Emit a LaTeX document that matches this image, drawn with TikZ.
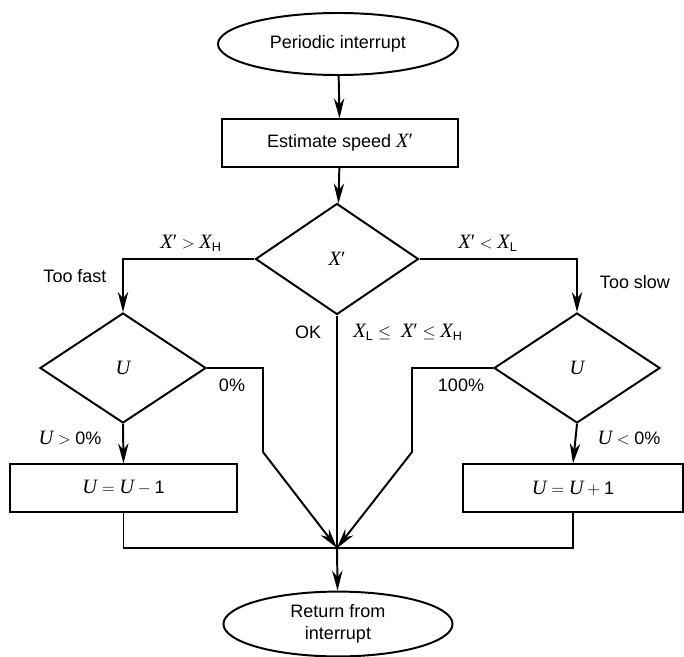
\documentclass[tikz,border=0pt]{standalone}
\usepackage{fontspec}
\setmainfont{Liberation Sans}
\newfontfamily\tms{Liberation Serif}
\newcommand\var[1]{\mbox{\tms\itshape\fontsize{14.5}{16}\selectfont #1}}
\newcommand\pr{\mbox{\tms\fontsize{14.5}{16}\selectfont\char"2032}}
\usetikzlibrary{arrows.meta,shapes.geometric}
\tikzset{
  fig/.style={font=\fontsize{12.8}{16}\selectfont},
  term/.style={draw,ellipse,line width=1.4pt,align=center,inner sep=0pt},
  proc/.style={draw,line width=1.4pt,minimum height=1.18cm,align=center,inner sep=2pt},
  dec/.style={draw,diamond,line width=1.4pt,minimum width=4.15cm,minimum height=2.75cm,
              inner sep=0pt},
  ln/.style={-{Stealth[length=5mm,width=2.6mm,inset=1.6mm]},line width=1.4pt},
  wire/.style={line width=1.4pt},
  lbl/.style={inner sep=1pt},
}

\begin{document}
\begin{tikzpicture}[fig,x=0.025cm,y=-0.025cm]
\useasboundingbox (0,0) rectangle (684,657);

\node[term,minimum width=6cm,minimum height=1.55cm] (start) at (338,44) {Periodic interrupt};
\node[proc,minimum width=5.875cm] (est) at (340,143) {Estimate speed $\var{X}\pr$};
\node[dec,minimum width=4.075cm,minimum height=2.775cm] (xd) at (337,259) {$\var{X}\pr$};
\node[dec] (ud1) at (123,368) {$\var{U}$};
\node[dec] (ud2) at (577,368) {$\var{U}$};
\node[proc,minimum width=5.675cm] (dec) at (123.5,488) {$\var{U} = \var{U} - \mbox{1}$};
\node[proc,minimum width=5.5cm] (inc) at (573,488) {$\var{U} = \var{U} + \mbox{1}$};
\node[term,minimum width=5.725cm,minimum height=1.62cm] (stop) at (338,624) {Return from\\interrupt};

\coordinate (j) at (337,548);
\coordinate (l1) at (263,452);
\coordinate (r1) at (412,452);

\draw[ln] (start) -- (est);
\draw[ln] (est) -- (xd);
\draw[ln] (xd.west) -| (ud1.north);
\draw[ln] (xd.east) -| (ud2.north);
\draw[ln] (ud1.south) -- (dec.north);
\draw[ln] (ud2.south) -- (inc.north);
\draw[wire] (xd.south) -- (j);
\draw[ln] (ud1.east) -| (l1) -- (j);
\draw[ln] (ud2.west) -| (r1) -- (j);
\draw[wire] (dec.south) -- (dec.south |- j) -- (inc.south |- j) -- (inc.south);
\draw[ln] (j) -- (stop);

\node[lbl] (gt) at (191,243) {$\var{X}\pr > \var{X}_{\mathrm{H}}$};
\node[lbl] (lt) at (488,243) {$\var{X}\pr < \var{X}_{\mathrm{L}}$};
\node[lbl] (fast) at (75,276) {Too fast};
\node[lbl] (slow) at (635,282) {Too slow};
\node[lbl] (ok) at (308,332) {OK};
\node[lbl] (rng) at (408,332) {$\var{X}_{\mathrm{L}} \leq\ \var{X}\pr \leq \var{X}_{\mathrm{H}}$};
\node[lbl] (p0) at (232,385) {0\%};
\node[lbl] (p100) at (461,385) {100\%};
\node[lbl] (ugt) at (70,438) {$\var{U} > \mbox{0\%}$};
\node[lbl] (ult) at (629,438) {$\var{U} < \mbox{0\%}$};

\end{tikzpicture}
\end{document}
